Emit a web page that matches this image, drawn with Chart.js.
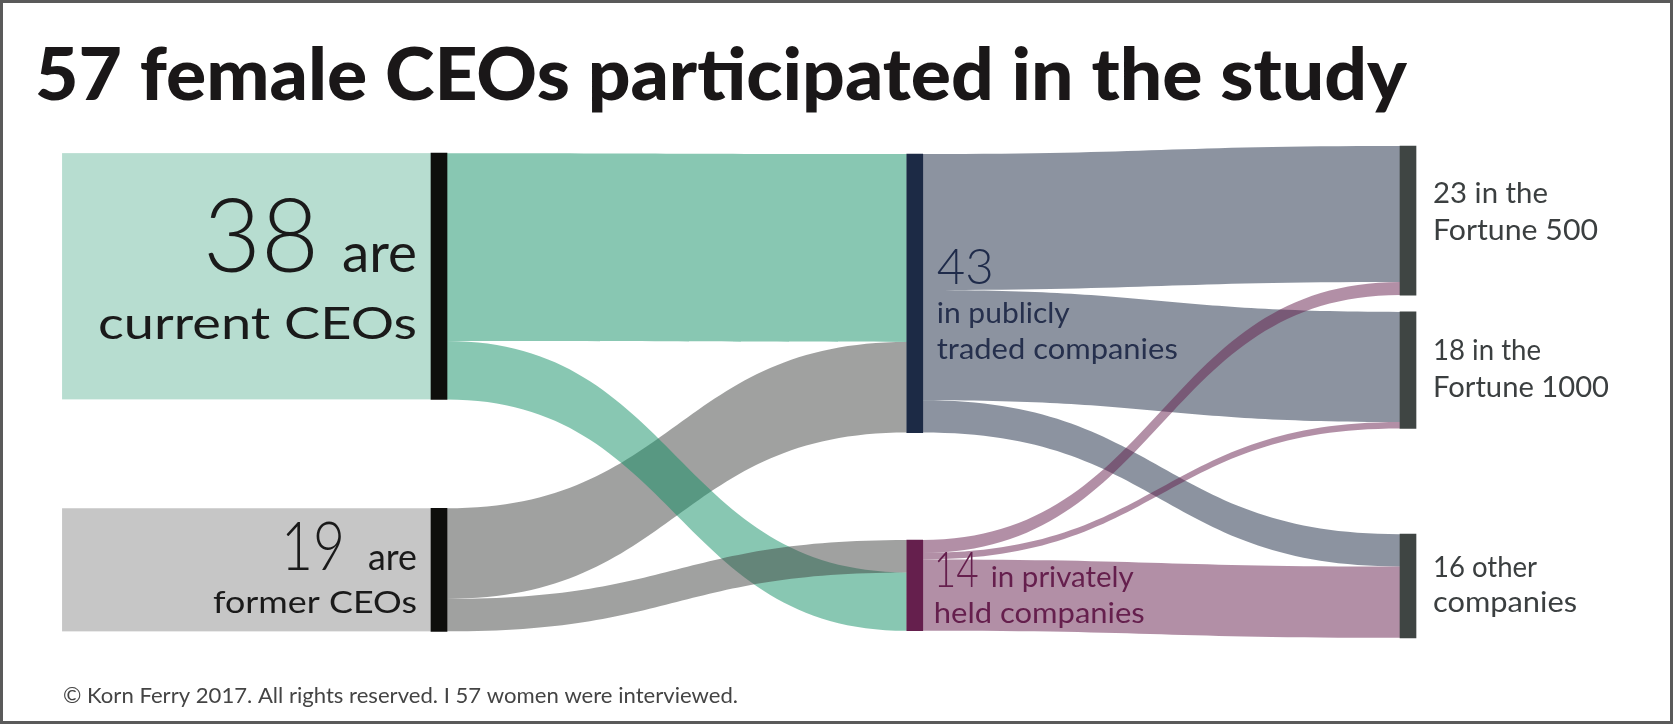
<!DOCTYPE html>
<html>
<head>
<meta charset="utf-8">
<title>57 female CEOs participated in the study</title>
<script src="https://cdn.jsdelivr.net/npm/chart.js@4.4.0/dist/chart.umd.min.js"></script>
<style>
  body { margin: 0; background: #fff; }
  #wrap { width: 1673px; height: 724px; position: relative; }
</style>
</head>
<body>
<div id="wrap"><canvas id="sankey"></canvas></div>
<script>
// nodes: id, column, value
const nodeIds = ['current', 'former', 'public', 'private', 'f500', 'f1000', 'other'];
const nodeColumn = [0, 0, 1, 1, 2, 2, 2];
const nodeValues = [38, 19, 43, 14, 23, 18, 16];

// flows between nodes
const flowFrom = ['current', 'current', 'former', 'former', 'public', 'public', 'public', 'private', 'private', 'private'];
const flowTo = ['public', 'private', 'public', 'private', 'f500', 'f1000', 'other', 'f500', 'f1000', 'other'];
const flowValues = [29, 9, 14, 5, 21, 17, 5, 2, 1, 11];

// layout (in scale units)
const columnX = [0, 0.982, 2];
const nodeTop = [1.1, 55.9, 1.23, 60.8, 0, 25.6, 59.9];
const inStackOrder = [0, 2, 3, 1, 4, 5, 6, 7, 8, 9];  // stacking on the target side
const drawOrder = [2, 0, 1, 3, 4, 5, 6, 7, 8, 9];
const labelBoxFrom = -0.778;
const NODE_W = 16;

// colours
const nodeColors = ['#0e0e0c', '#0e0e0c', '#1c2a45', '#651f4d', '#3f4543', '#3f4543', '#3f4543'];
const flowColors = {
  current: 'rgba(17,143,101,0.5)',
  former: 'rgba(65,67,65,0.5)',
  public: 'rgba(25,39,65,0.5)',
  private: 'rgba(101,31,77,0.5)'
};
const boxColors = { current: 'rgba(17,143,101,0.3)', former: 'rgba(65,67,65,0.3)' };

const FONT = 'Lato, "Open Sans", sans-serif';

function flowGeometry() {
  const outOff = nodeTop.slice();
  const inOff = nodeTop.slice();
  const geo = [];
  flowValues.forEach((v, i) => {
    const s = nodeIds.indexOf(flowFrom[i]);
    geo[i] = { s: s, y0: outOff[s], v: v };
    outOff[s] += v;
  });
  inStackOrder.forEach(i => {
    const t = nodeIds.indexOf(flowTo[i]);
    geo[i].t = t;
    geo[i].y1 = inOff[t];
    inOff[t] += flowValues[i];
  });
  return geo;
}

// text, optionally squeezed/stretched to a given width
function drawText(ctx, str, x, y, font, color, align, width) {
  ctx.save();
  ctx.font = font;
  ctx.fillStyle = color;
  ctx.textBaseline = 'alphabetic';
  ctx.textAlign = align;
  const w = ctx.measureText(str).width;
  ctx.translate(x, y);
  if (width) ctx.scale(width / w, 1);
  ctx.fillText(str, 0, 0);
  ctx.restore();
}

const sankeyPlugin = {
  id: 'sankeyFlows',
  beforeDatasetsDraw(chart) {
    const ctx = chart.ctx;
    const xs = chart.scales.x, ys = chart.scales.y;
    const colPx = c => xs.getPixelForValue(columnX[c]);

    // label boxes behind the first column
    ['current', 'former'].forEach(id => {
      const i = nodeIds.indexOf(id);
      const left = xs.getPixelForValue(labelBoxFrom);
      const right = colPx(nodeColumn[i]) - NODE_W / 2;
      const top = ys.getPixelForValue(nodeTop[i]);
      const bottom = ys.getPixelForValue(nodeTop[i] + nodeValues[i]);
      ctx.fillStyle = boxColors[id];
      ctx.fillRect(left, top, right - left, bottom - top);
    });

    // flows
    const geo = flowGeometry();
    drawOrder.forEach(i => {
      const g = geo[i];
      const x0 = colPx(nodeColumn[g.s]) + NODE_W / 2;
      const x1 = colPx(nodeColumn[g.t]) - NODE_W / 2;
      const xm = (x0 + x1) / 2;
      const a0 = ys.getPixelForValue(g.y0), b0 = ys.getPixelForValue(g.y0 + g.v);
      const a1 = ys.getPixelForValue(g.y1), b1 = ys.getPixelForValue(g.y1 + g.v);
      ctx.beginPath();
      ctx.moveTo(x0, a0);
      ctx.bezierCurveTo(xm, a0, xm, a1, x1, a1);
      ctx.lineTo(x1, b1);
      ctx.bezierCurveTo(xm, b1, xm, b0, x0, b0);
      ctx.closePath();
      ctx.fillStyle = flowColors[flowFrom[i]];
      ctx.fill();
    });
  },
  afterDraw(chart) {
    const ctx = chart.ctx;
    const xs = chart.scales.x, ys = chart.scales.y;
    const top = id => ys.getPixelForValue(nodeTop[nodeIds.indexOf(id)]);
    const left = id => xs.getPixelForValue(columnX[nodeColumn[nodeIds.indexOf(id)]]) - NODE_W / 2;
    const right = id => left(id) + NODE_W;

    // title + footer
    drawText(ctx, '57 female CEOs participated in the study', 35, 100, '900 72px ' + FONT, '#1a1718', 'left', 1372);
    drawText(ctx, '\u00A9 Korn Ferry 2017. All rights reserved. I 57 women were interviewed.', 63, 703, '21px ' + FONT, '#444444', 'left', 675);

    // first column
    const lx = left('current') - 14;
    drawText(ctx, 'are', lx, top('current') + 119, '54px ' + FONT, '#1a1a1a', 'right', 75);
    drawText(ctx, '38', lx - 98, top('current') + 119, '300 103px ' + FONT, '#1a1a1a', 'right', 116);
    drawText(ctx, 'current CEOs', lx, top('current') + 186, '44px ' + FONT, '#1a1a1a', 'right', 319);
    drawText(ctx, 'are', lx, top('former') + 62, '36px ' + FONT, '#1a1a1a', 'right', 49);
    drawText(ctx, '19', lx - 72, top('former') + 62, '300 67px ' + FONT, '#1a1a1a', 'right', 64);
    drawText(ctx, 'former CEOs', lx, top('former') + 105, '31px ' + FONT, '#1a1a1a', 'right', 204);

    // second column
    const px = right('public') + 14;
    drawText(ctx, '43', px, top('public') + 130, '300 50px ' + FONT, '#1f2b4a', 'left', 57);
    drawText(ctx, 'in publicly', px, top('public') + 169, '29px ' + FONT, '#26304d', 'left', 133);
    drawText(ctx, 'traded companies', px, top('public') + 205, '29px ' + FONT, '#26304d', 'left', 241);
    const vx = right('private') + 11;
    drawText(ctx, '14', vx, top('private') + 47, '300 50px ' + FONT, '#651f4d', 'left', 45);
    drawText(ctx, 'in privately', vx + 57, top('private') + 47, '29px ' + FONT, '#651f4d', 'left', 143);
    drawText(ctx, 'held companies', vx, top('private') + 83, '29px ' + FONT, '#651f4d', 'left', 211);

    // third column
    const rx = right('f500') + 17;
    const c3 = '#3b3f40';
    drawText(ctx, '23 in the', rx, top('f500') + 57, '28px ' + FONT, c3, 'left', 115);
    drawText(ctx, 'Fortune 500', rx, top('f500') + 94, '28px ' + FONT, c3, 'left', 165);
    drawText(ctx, '18 in the', rx, top('f1000') + 48, '28px ' + FONT, c3, 'left', 108);
    drawText(ctx, 'Fortune 1000', rx, top('f1000') + 85, '28px ' + FONT, c3, 'left', 176);
    drawText(ctx, '16 other', rx, top('other') + 43, '28px ' + FONT, c3, 'left', 104);
    drawText(ctx, 'companies', rx, top('other') + 78, '28px ' + FONT, c3, 'left', 144);

    // frame
    ctx.save();
    ctx.strokeStyle = '#5a5a5a';
    ctx.lineWidth = 3;
    ctx.strokeRect(1.5, 1.5, chart.width - 3, chart.height - 3);
    ctx.restore();
  }
};

const config = {
  type: 'bar',
  data: {
    datasets: [{
      label: 'nodes',
      data: nodeValues.map((v, i) => ({ x: columnX[nodeColumn[i]], y: [nodeTop[i], nodeTop[i] + v] })),
      backgroundColor: nodeColors,
      borderWidth: 0,
      barThickness: NODE_W,
      clip: false
    }]
  },
  options: {
    responsive: true,
    maintainAspectRatio: false,
    animation: false,
    events: [],
    layout: { padding: { left: 439, right: 265, top: 146, bottom: 85.5 } },
    plugins: { legend: { display: false }, tooltip: { enabled: false }, title: { display: false } },
    scales: {
      x: { type: 'linear', min: 0, max: 2, offset: false, display: false },
      y: { type: 'linear', min: 0, max: 76, reverse: true, display: false }
    }
  },
  plugins: [sankeyPlugin]
};

new Chart(document.getElementById('sankey').getContext('2d'), config);
</script>
</body>
</html>
